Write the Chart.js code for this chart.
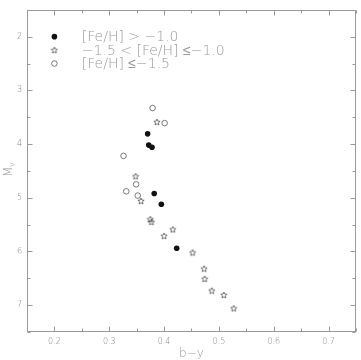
<!DOCTYPE html>
<html>
<head>
<meta charset="utf-8">
<script src="https://cdn.jsdelivr.net/npm/chart.js@4/dist/chart.umd.min.js"></script>
<style>
  html, body { margin: 0; padding: 0; background: #fff; }
  #wrap { width: 361px; height: 360px; }
</style>
</head>
<body>
<div id="wrap"><canvas id="myChart" width="361" height="360"></canvas></div>
<script>
// values (b-y, Mv)
var richX = [0.370, 0.372, 0.378, 0.382, 0.395, 0.423];
var richY = [3.81, 4.02, 4.06, 4.92, 5.12, 5.94];

var midX = [0.387, 0.348, 0.358, 0.375, 0.377, 0.416, 0.400, 0.452, 0.473, 0.474, 0.487, 0.509, 0.527];
var midY = [3.59, 4.60, 5.06, 5.40, 5.45, 5.59, 5.71, 6.02, 6.32, 6.51, 6.73, 6.81, 7.06];

var poorX = [0.379, 0.401, 0.326, 0.349, 0.331, 0.352];
var poorY = [3.33, 3.61, 4.22, 4.75, 4.88, 4.96];

var xTicks = [0.2, 0.3, 0.4, 0.5, 0.6, 0.7];
var yTicks = [2, 3, 4, 5, 6, 7];
var legendLabels = ["[Fe/H] > \u22121.0", "\u22121.5 < [Fe/H] \u2264\u22121.0", "[Fe/H] \u2264\u22121.5"];

var ink = "#111";
var grey = "#999";

function pts(xs, ys) {
  var out = [];
  for (var i = 0; i < xs.length; i++) out.push({x: xs[i], y: ys[i]});
  return out;
}

function starPath(c, cx, cy, ro, ri) {
  c.beginPath();
  for (var k = 0; k < 10; k++) {
    var r = k % 2 ? ri : ro;
    var a = -Math.PI / 2 + k * Math.PI / 5;
    var px = cx + r * Math.cos(a), py = cy + r * Math.sin(a);
    if (k == 0) c.moveTo(px, py); else c.lineTo(px, py);
  }
  c.closePath();
}

var starImg = document.createElement("canvas");
starImg.width = 8; starImg.height = 8;
(function() {
  var c = starImg.getContext("2d");
  c.strokeStyle = "#222";
  c.lineWidth = 0.6;
  starPath(c, 4, 4.3, 3.3, 1.5);
  c.stroke();
})();

// frame, inward ticks, legend and titles
var framePlugin = {
  id: "frame",
  afterDraw: function(chart) {
    var c = chart.ctx, a = chart.chartArea;
    var xs = chart.scales.x, ys = chart.scales.y;
    var L = Math.round(a.left) + 0.5, R = Math.round(a.right) - 0.5;
    var T = Math.round(a.top) + 0.5, B = Math.round(a.bottom) - 0.5;
    c.save();
    c.strokeStyle = "#999";
    c.lineWidth = 1;
    c.strokeRect(L, T, R - L, B - T);
    c.beginPath();
    for (var v = 0.15; v <= 0.7501; v += 0.05) {
      var px = Math.round(xs.getPixelForValue(v)) + 0.5;
      var major = Math.abs(v * 10 - Math.round(v * 10)) < 1e-6;
      var len = major ? 5 : 3;
      c.moveTo(px, B); c.lineTo(px, B - len);
      c.moveTo(px, T); c.lineTo(px, T + len);
    }
    for (var w = 1.5; w <= 7.501; w += 0.5) {
      var py = Math.round(ys.getPixelForValue(w)) + 0.5;
      var maj = Math.abs(w - Math.round(w)) < 1e-6;
      var l2 = maj ? 5 : 3;
      c.moveTo(L, py); c.lineTo(L + l2, py);
      c.moveTo(R, py); c.lineTo(R - l2, py);
    }
    c.stroke();

    // legend
    var lx = xs.getPixelForValue(0.2), tx = xs.getPixelForValue(0.25);
    var ly = [ys.getPixelForValue(2.0), ys.getPixelForValue(2.25), ys.getPixelForValue(2.5)];
    c.fillStyle = ink;
    c.beginPath(); c.arc(lx, ly[0], 2.8, 0, Math.PI * 2); c.fill();
    c.drawImage(starImg, lx - 4, ly[1] - 4);
    c.strokeStyle = "#444"; c.lineWidth = 0.7;
    c.beginPath(); c.arc(lx, ly[2], 2.8, 0, Math.PI * 2); c.stroke();
    c.fillStyle = grey;
    c.font = "200 14px 'DejaVu Sans', sans-serif";
    c.textBaseline = "middle";
    c.textAlign = "left";
    for (var i = 0; i < legendLabels.length; i++) c.fillText(legendLabels[i], tx, ly[i] + 1);

    // axis titles
    c.font = "200 12px 'DejaVu Sans', sans-serif";
    c.textAlign = "center";
    c.textBaseline = "alphabetic";
    c.fillText("b\u2212y", (a.left + a.right) / 2, 357);
    c.translate(12, (a.top + a.bottom) / 2);
    c.rotate(-Math.PI / 2);
    c.textAlign = "left";
    c.fillText("M", -6, 0);
    c.font = "200 8px 'DejaVu Sans', sans-serif";
    c.fillText("v", 4, 3);
    c.restore();
  }
};

var ctx = document.getElementById("myChart");

var myChart = new Chart(ctx, {
  type: "scatter",
  data: {
    datasets: [{
      label: legendLabels[0],
      data: pts(richX, richY),
      pointStyle: "circle",
      pointRadius: 2.8,
      pointBackgroundColor: ink,
      pointBorderColor: ink,
      pointBorderWidth: 0
    }, {
      label: legendLabels[1],
      data: pts(midX, midY),
      pointStyle: starImg,
      pointRadius: 3
    }, {
      label: legendLabels[2],
      data: pts(poorX, poorY),
      pointStyle: "circle",
      pointRadius: 2.8,
      pointBackgroundColor: "rgba(0,0,0,0)",
      pointBorderColor: "#444",
      pointBorderWidth: 0.7
    }]
  },
  options: {
    responsive: false,
    animation: false,
    events: [],
    layout: { padding: { left: 0, right: 1, top: 0, bottom: 0 } },
    plugins: { legend: { display: false }, tooltip: { enabled: false } },
    scales: {
      x: {
        type: "linear",
        min: 0.15,
        max: 0.75,
        afterBuildTicks: function(s) { s.ticks = xTicks.map(function(v) { return {value: v}; }); },
        afterFit: function(s) { s.height = 28; },
        grid: { display: false, drawTicks: false },
        border: { display: false },
        ticks: {
          padding: 5,
          color: "#888",
          font: { family: "'DejaVu Sans', sans-serif", size: 8, weight: "200" },
          maxRotation: 0,
          callback: function(v) { return v.toFixed(1); }
        }
      },
      y: {
        type: "linear",
        reverse: true,
        min: 1.5,
        max: 7.5,
        afterBuildTicks: function(s) { s.ticks = yTicks.map(function(v) { return {value: v}; }); },
        afterFit: function(s) { s.width = 27; },
        grid: { display: false, drawTicks: false },
        border: { display: false },
        ticks: {
          padding: 5,
          color: "#888",
          font: { family: "'DejaVu Sans', sans-serif", size: 8, weight: "200" }
        }
      }
    }
  },
  plugins: [framePlugin]
});
</script>
</body>
</html>
